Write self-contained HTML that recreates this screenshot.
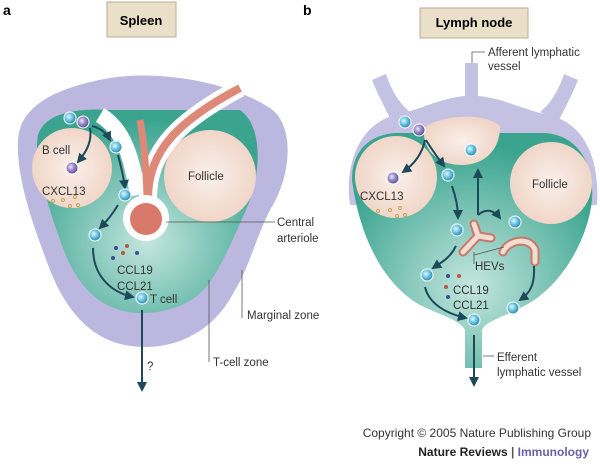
<!DOCTYPE html>
<html><head><meta charset="utf-8"><style>
body{margin:0;background:#fff;width:600px;height:461px;overflow:hidden}
text{font-family:"Liberation Sans",sans-serif}
</style></head><body>
<svg width="600" height="461" viewBox="0 0 600 461" xmlns="http://www.w3.org/2000/svg">
<defs>
<radialGradient id="tg" cx="0.5" cy="0.65" r="0.6"><stop offset="0" stop-color="#c5e6df"/><stop offset="1" stop-color="#3aa48f"/></radialGradient>
<radialGradient id="fg" cx="0.5" cy="0.5" r="0.5"><stop offset="0" stop-color="#fbf0ea"/><stop offset="1" stop-color="#f0d6c8"/></radialGradient>
<radialGradient id="cell" cx="0.4" cy="0.4" r="0.6"><stop offset="0" stop-color="#e8f8ff"/><stop offset="0.5" stop-color="#6cc6e6"/><stop offset="1" stop-color="#2f87aa"/></radialGradient>
<radialGradient id="bcell" cx="0.4" cy="0.4" r="0.6"><stop offset="0" stop-color="#eee8ff"/><stop offset="0.5" stop-color="#9a88c8"/><stop offset="1" stop-color="#5e4f92"/></radialGradient>
<marker id="ah" viewBox="0 0 10 10" refX="8" refY="5" markerWidth="5" markerHeight="5" orient="auto"><path d="M0,0L10,5L0,10z" fill="#1d4a5a"/></marker>
</defs>
<text x="3" y="15" font-size="14" font-weight="bold">a</text>
<text x="303" y="15" font-size="14" font-weight="bold">b</text>
<rect x="107" y="2" width="69" height="35" fill="#eadfc9" stroke="#b9ab92"/>
<text x="141" y="25" font-size="13" font-weight="bold" text-anchor="middle">Spleen</text>
<rect x="420" y="8" width="108" height="30" fill="#eadfc9" stroke="#b9ab92"/>
<text x="474" y="27" font-size="13" font-weight="bold" text-anchor="middle">Lymph node</text>

<!-- Spleen -->
<path d="M18,140 C20,100 70,85 110,78 C160,70 230,82 270,108 C295,125 292,175 270,210 C255,240 248,270 235,290 C215,330 180,347 145,347 C100,347 70,320 50,270 C35,230 16,180 18,140Z" fill="#bcb7df"/>
<path d="M38,135 C45,112 80,108 110,110 L240,110 C262,125 262,170 248,205 C235,235 222,265 210,282 C195,303 170,313 142,313 C100,313 75,285 60,240 C48,205 33,160 38,135Z" fill="url(#tg)"/>
<circle cx="72" cy="168" r="40" fill="url(#fg)"/>
<circle cx="210" cy="176" r="46" fill="url(#fg)"/>
<path d="M100,115 C125,130 132,160 138,195" stroke="#fff" stroke-width="16" fill="none"/>
<path d="M148,198 C148,150 180,120 240,88" stroke="#fff" stroke-width="18" fill="none"/>
<path d="M148,198 C148,150 180,120 240,88" stroke="#de8878" stroke-width="8" fill="none"/>
<path d="M140,120 C144,140 146,170 147,195" stroke="#de8878" stroke-width="7" fill="none"/>
<circle cx="146" cy="218" r="23" fill="#fff"/>
<circle cx="146" cy="219" r="16" fill="#d9796b"/>
<line x1="166" y1="222" x2="275" y2="222" stroke="#555" stroke-width="0.8"/>
<text x="277" y="226" font-size="11.5" fill="#333">Central</text>
<text x="277" y="242" font-size="11.5" fill="#333">arteriole</text>
<line x1="209" y1="280" x2="209" y2="362" stroke="#555" stroke-width="0.8"/>
<text x="213" y="366" font-size="11.5" fill="#333">T-cell zone</text>
<line x1="242" y1="270" x2="242" y2="318" stroke="#555" stroke-width="0.8"/>
<text x="247" y="319" font-size="11.5" fill="#333">Marginal zone</text>
<text x="42" y="154" font-size="11.5" fill="#333">B cell</text>
<text x="42" y="195" font-size="11.5" fill="#333">CXCL13</text>
<text x="188" y="180" font-size="11.5" fill="#333">Follicle</text>
<text x="117" y="274" font-size="11.5" fill="#333">CCL19</text>
<text x="117" y="290" font-size="11.5" fill="#333">CCL21</text>
<text x="150" y="303" font-size="11.5" fill="#333">T cell</text>
<text x="147" y="370" font-size="11.5" fill="#333">?</text>
<g fill="none" stroke="#c9a04a" stroke-width="0.9"><circle cx="53" cy="201" r="1.5"/><circle cx="63" cy="200" r="1.5"/><circle cx="75" cy="197" r="1.5"/><circle cx="70" cy="206" r="1.5"/><circle cx="78" cy="205" r="1.5"/></g>
<circle cx="116" cy="248" r="2" fill="#3b4e9a"/><circle cx="127" cy="246" r="2" fill="#c0553f"/><circle cx="123" cy="253" r="2" fill="#c0553f"/><circle cx="137" cy="253" r="2" fill="#3b4e9a"/><circle cx="113" cy="258" r="2" fill="#3b4e9a"/>
<g stroke="#1d4a5a" stroke-width="2" fill="none" marker-end="url(#ah)">
<path d="M90,128 C92,140 88,150 78,162"/>
<path d="M92,126 C100,128 106,132 110,140"/>
<path d="M118,155 C122,170 124,180 125,188"/>
<path d="M118,205 C112,215 106,222 100,228"/>
<path d="M93,248 C93,275 110,292 133,297"/>
<path d="M142,310 L142,390"/>
</g>
<circle cx="70" cy="118" r="6" fill="url(#cell)" stroke="#fff"/>
<circle cx="83" cy="122" r="6" fill="url(#bcell)" stroke="#fff"/>
<circle cx="72" cy="168" r="6" fill="url(#bcell)" stroke="#fff"/>
<circle cx="116" cy="147" r="6" fill="url(#cell)" stroke="#fff"/>
<circle cx="125" cy="195" r="6" fill="url(#cell)" stroke="#fff"/>
<circle cx="95" cy="235" r="6" fill="url(#cell)" stroke="#fff"/>
<circle cx="142" cy="298" r="6" fill="url(#cell)" stroke="#fff"/>

<!-- Lymph node -->
<path d="M372,80 L386,74 C392,92 400,104 410,112 L392,122 C385,108 378,95 372,80Z" fill="#c5c1e3"/>
<path d="M564,74 L578,80 C572,95 565,108 558,122 L540,112 C550,104 558,92 564,74Z" fill="#c5c1e3"/>
<rect x="465" y="63" width="13" height="40" fill="#c5c1e3"/>
<path d="M350,205 C344,160 362,125 392,116 C420,110 440,98 465,96 L478,96 C503,98 523,110 552,116 C585,125 600,160 597,205Z" fill="#c5c1e3"/>
<path d="M352,180 C352,150 370,135 395,133 L545,133 C575,135 595,160 592,200 C588,240 560,290 520,308 C500,318 485,322 482,330 L482,368 L465,368 L465,330 C460,320 440,315 420,305 C385,285 360,240 352,180Z" fill="url(#tg)"/>
<circle cx="396" cy="177" r="41" fill="url(#fg)"/>
<path d="M424,128 C440,115 485,112 500,126 C500,150 485,165 461,165 C438,165 422,150 424,128Z" fill="url(#fg)"/>
<circle cx="551" cy="183" r="41" fill="url(#fg)"/>
<path d="M472,63 L472,52 L485,52" stroke="#555" stroke-width="0.8" fill="none"/>
<text x="488" y="56" font-size="11.5" fill="#333">Afferent lymphatic</text>
<text x="488" y="70" font-size="11.5" fill="#333">vessel</text>
<text x="360" y="200" font-size="11.5" fill="#333">CXCL13</text>
<text x="532" y="188" font-size="11.5" fill="#333">Follicle</text>
<text x="475" y="270" font-size="11.5" fill="#333">HEVs</text>
<text x="453" y="294" font-size="11.5" fill="#333">CCL19</text>
<text x="453" y="309" font-size="11.5" fill="#333">CCL21</text>
<line x1="483" y1="356" x2="494" y2="356" stroke="#555" stroke-width="0.8"/>
<text x="497" y="361" font-size="11.5" fill="#333">Efferent</text>
<text x="497" y="376" font-size="11.5" fill="#333">lymphatic vessel</text>
<g fill="none" stroke="#c9a04a" stroke-width="0.9"><circle cx="378" cy="211" r="1.5"/><circle cx="390" cy="210" r="1.5"/><circle cx="400" cy="208" r="1.5"/><circle cx="397" cy="216" r="1.5"/><circle cx="405" cy="215" r="1.5"/></g>
<circle cx="448" cy="276" r="2" fill="#3b4e9a"/><circle cx="459" cy="276" r="2" fill="#c0553f"/><circle cx="446" cy="287" r="2" fill="#c0553f"/><circle cx="448" cy="297" r="2" fill="#3b4e9a"/>
<g fill="none" stroke-linecap="round">
<path d="M463,252 L478,236 L474,224 M478,236 L491,238" stroke="#c87a6a" stroke-width="9"/>
<path d="M463,252 L478,236 L474,224 M478,236 L491,238" stroke="#f3dcd2" stroke-width="5"/>
<path d="M503,252 C508,240 530,236 535,250 L535,262" stroke="#c87a6a" stroke-width="9"/>
<path d="M503,252 C508,240 530,236 535,250 L535,262" stroke="#f3dcd2" stroke-width="5"/>
</g>
<path d="M474,252 L474,264 M474,255 L504,247" stroke="#555" stroke-width="0.8" fill="none"/>
<g stroke="#1d4a5a" stroke-width="2" fill="none" marker-end="url(#ah)">
<path d="M425,140 C422,155 413,165 403,172"/>
<path d="M426,140 C432,150 438,158 444,166"/>
<path d="M452,186 C457,200 458,210 458,218"/>
<path d="M456,246 C450,258 442,262 433,268"/>
<path d="M478,215 L478,170"/>
<path d="M478,215 C486,208 494,210 500,218"/>
<path d="M534,266 C535,285 530,293 520,300"/>
<path d="M425,287 C428,300 440,312 466,318"/>
<path d="M474,335 L474,385"/>
</g>
<circle cx="405" cy="122" r="6" fill="url(#cell)" stroke="#fff"/>
<circle cx="419" cy="130" r="6" fill="url(#bcell)" stroke="#fff"/>
<circle cx="393" cy="178" r="6" fill="url(#bcell)" stroke="#fff"/>
<circle cx="471" cy="150" r="6" fill="url(#cell)" stroke="#fff"/>
<circle cx="448" cy="175" r="6" fill="url(#cell)" stroke="#fff"/>
<circle cx="457" cy="230" r="6" fill="url(#cell)" stroke="#fff"/>
<circle cx="515" cy="222" r="6" fill="url(#cell)" stroke="#fff"/>
<circle cx="427" cy="275" r="6" fill="url(#cell)" stroke="#fff"/>
<circle cx="513" cy="308" r="6" fill="url(#cell)" stroke="#fff"/>
<circle cx="474" cy="320" r="6" fill="url(#cell)" stroke="#fff"/>

<text x="591" y="437" font-size="12" fill="#333" text-anchor="end">Copyright © 2005 Nature Publishing Group</text>
<text x="589" y="456" font-size="12" font-weight="bold" text-anchor="end"><tspan fill="#222">Nature Reviews</tspan><tspan fill="#555"> | </tspan><tspan fill="#6b5fa8">Immunology</tspan></text>
</svg>
</body></html>
